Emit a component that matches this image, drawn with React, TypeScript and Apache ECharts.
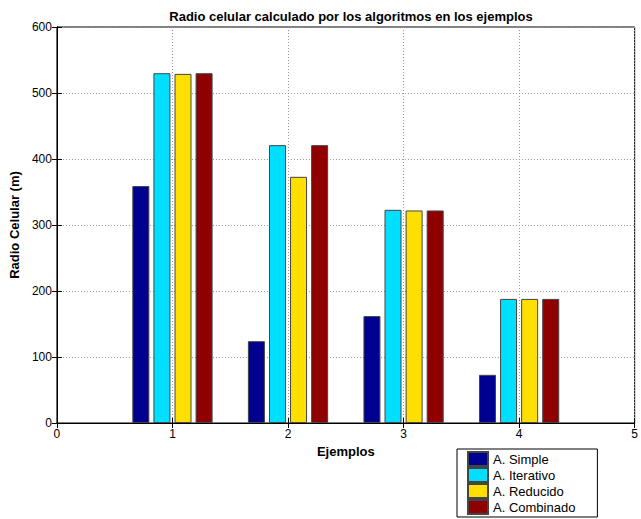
import React, { useEffect, useRef } from "react";
import * as echarts from "echarts";

const examples = [1, 2, 3, 4];
const seriesNames = ["A. Simple", "A. Iterativo", "A. Reducido", "A. Combinado"];
const simple = [359, 124, 162, 73];
const iterativo = [530, 421, 323, 188];
const reducido = [529, 373, 322, 188];
const combinado = [530, 421, 322, 188];
const colors = ["#000090", "#00DFFF", "#FFDF00", "#8F0000"];

export default function App() {
  const ref = useRef<HTMLDivElement>(null);
  useEffect(() => {
    if (!ref.current) return;
    const chart = echarts.init(ref.current, null, { renderer: "svg" });
    const values = [simple, iterativo, reducido, combinado];
    const font = "Arial, 'Liberation Sans', sans-serif";
    chart.setOption({
      animation: false,
      backgroundColor: "#fff",
      title: {
        text: "Radio celular calculado por los algoritmos en los ejemplos",
        left: 346,
        textAlign: "center",
        top: 5,
        textStyle: { fontFamily: font, fontSize: 13, fontWeight: "bold", color: "#000" },
      },
      legend: {
        orient: "vertical",
        left: 457,
        top: 449,
        height: 100,
        itemWidth: 20,
        itemHeight: 14,
        itemGap: 0,
        padding: [2, 22, 2, 10],
        borderColor: "#000",
        borderWidth: 1,
        backgroundColor: "#fff",
        icon: "rect",
        data: seriesNames,
        textStyle: { fontFamily: font, fontSize: 13, lineHeight: 14, color: "#000" },
      },
      grid: { left: 54, right: 2, top: 27, bottom: 96, show: true, borderColor: "#000", borderWidth: 1 },
      xAxis: [
        {
          type: "value",
          min: 0,
          max: 5,
          interval: 1,
          name: "Ejemplos",
          nameLocation: "middle",
          nameGap: 22,
          nameTextStyle: { fontFamily: font, fontSize: 13, fontWeight: "bold", color: "#000" },
          axisLine: { show: true, lineStyle: { color: "#000" } },
          axisTick: { show: true, inside: true, length: 5, lineStyle: { color: "#000" } },
          axisLabel: { fontFamily: font, fontSize: 12, color: "#000", margin: 5 },
          splitLine: { show: true, lineStyle: { color: "#999", type: [1, 2] } },
        },
        {
          type: "value",
          position: "top",
          min: 0,
          max: 5,
          interval: 1,
          axisLine: { show: true, lineStyle: { color: "#000" } },
          axisTick: { show: true, inside: true, length: 5, lineStyle: { color: "#000" } },
          axisLabel: { show: false },
          splitLine: { show: false },
        },
      ],
      yAxis: [
        {
          type: "value",
          min: 0,
          max: 600,
          interval: 100,
          name: "Radio Celular (m)",
          nameLocation: "middle",
          nameGap: 32,
          nameTextStyle: { fontFamily: font, fontSize: 13, fontWeight: "bold", color: "#000" },
          axisLine: { show: true, lineStyle: { color: "#000" } },
          axisTick: { show: true, inside: true, length: 5, lineStyle: { color: "#000" } },
          axisLabel: { fontFamily: font, fontSize: 12, color: "#000", margin: 5 },
          splitLine: { show: true, lineStyle: { color: "#999", type: [1, 2] } },
        },
        {
          type: "value",
          position: "right",
          min: 0,
          max: 600,
          interval: 100,
          axisLine: { show: true, lineStyle: { color: "#000" } },
          axisTick: { show: true, inside: true, length: 5, lineStyle: { color: "#000" } },
          axisLabel: { show: false },
          splitLine: { show: false },
        },
      ],
      series: seriesNames.map((name, i) => ({
        name,
        type: "bar",
        xAxisIndex: 0,
        yAxisIndex: 0,
        barWidth: 17,
        barGap: "24%",
        itemStyle: { color: colors[i], borderColor: "#444", borderWidth: 1 },
        data: examples.map((x, j) => [x, values[i][j]]),
      })),
    });
    return () => chart.dispose();
  }, []);
  return <div ref={ref} style={{ position: "absolute", left: 0, top: 0, width: 641, height: 519 }} />;
}
